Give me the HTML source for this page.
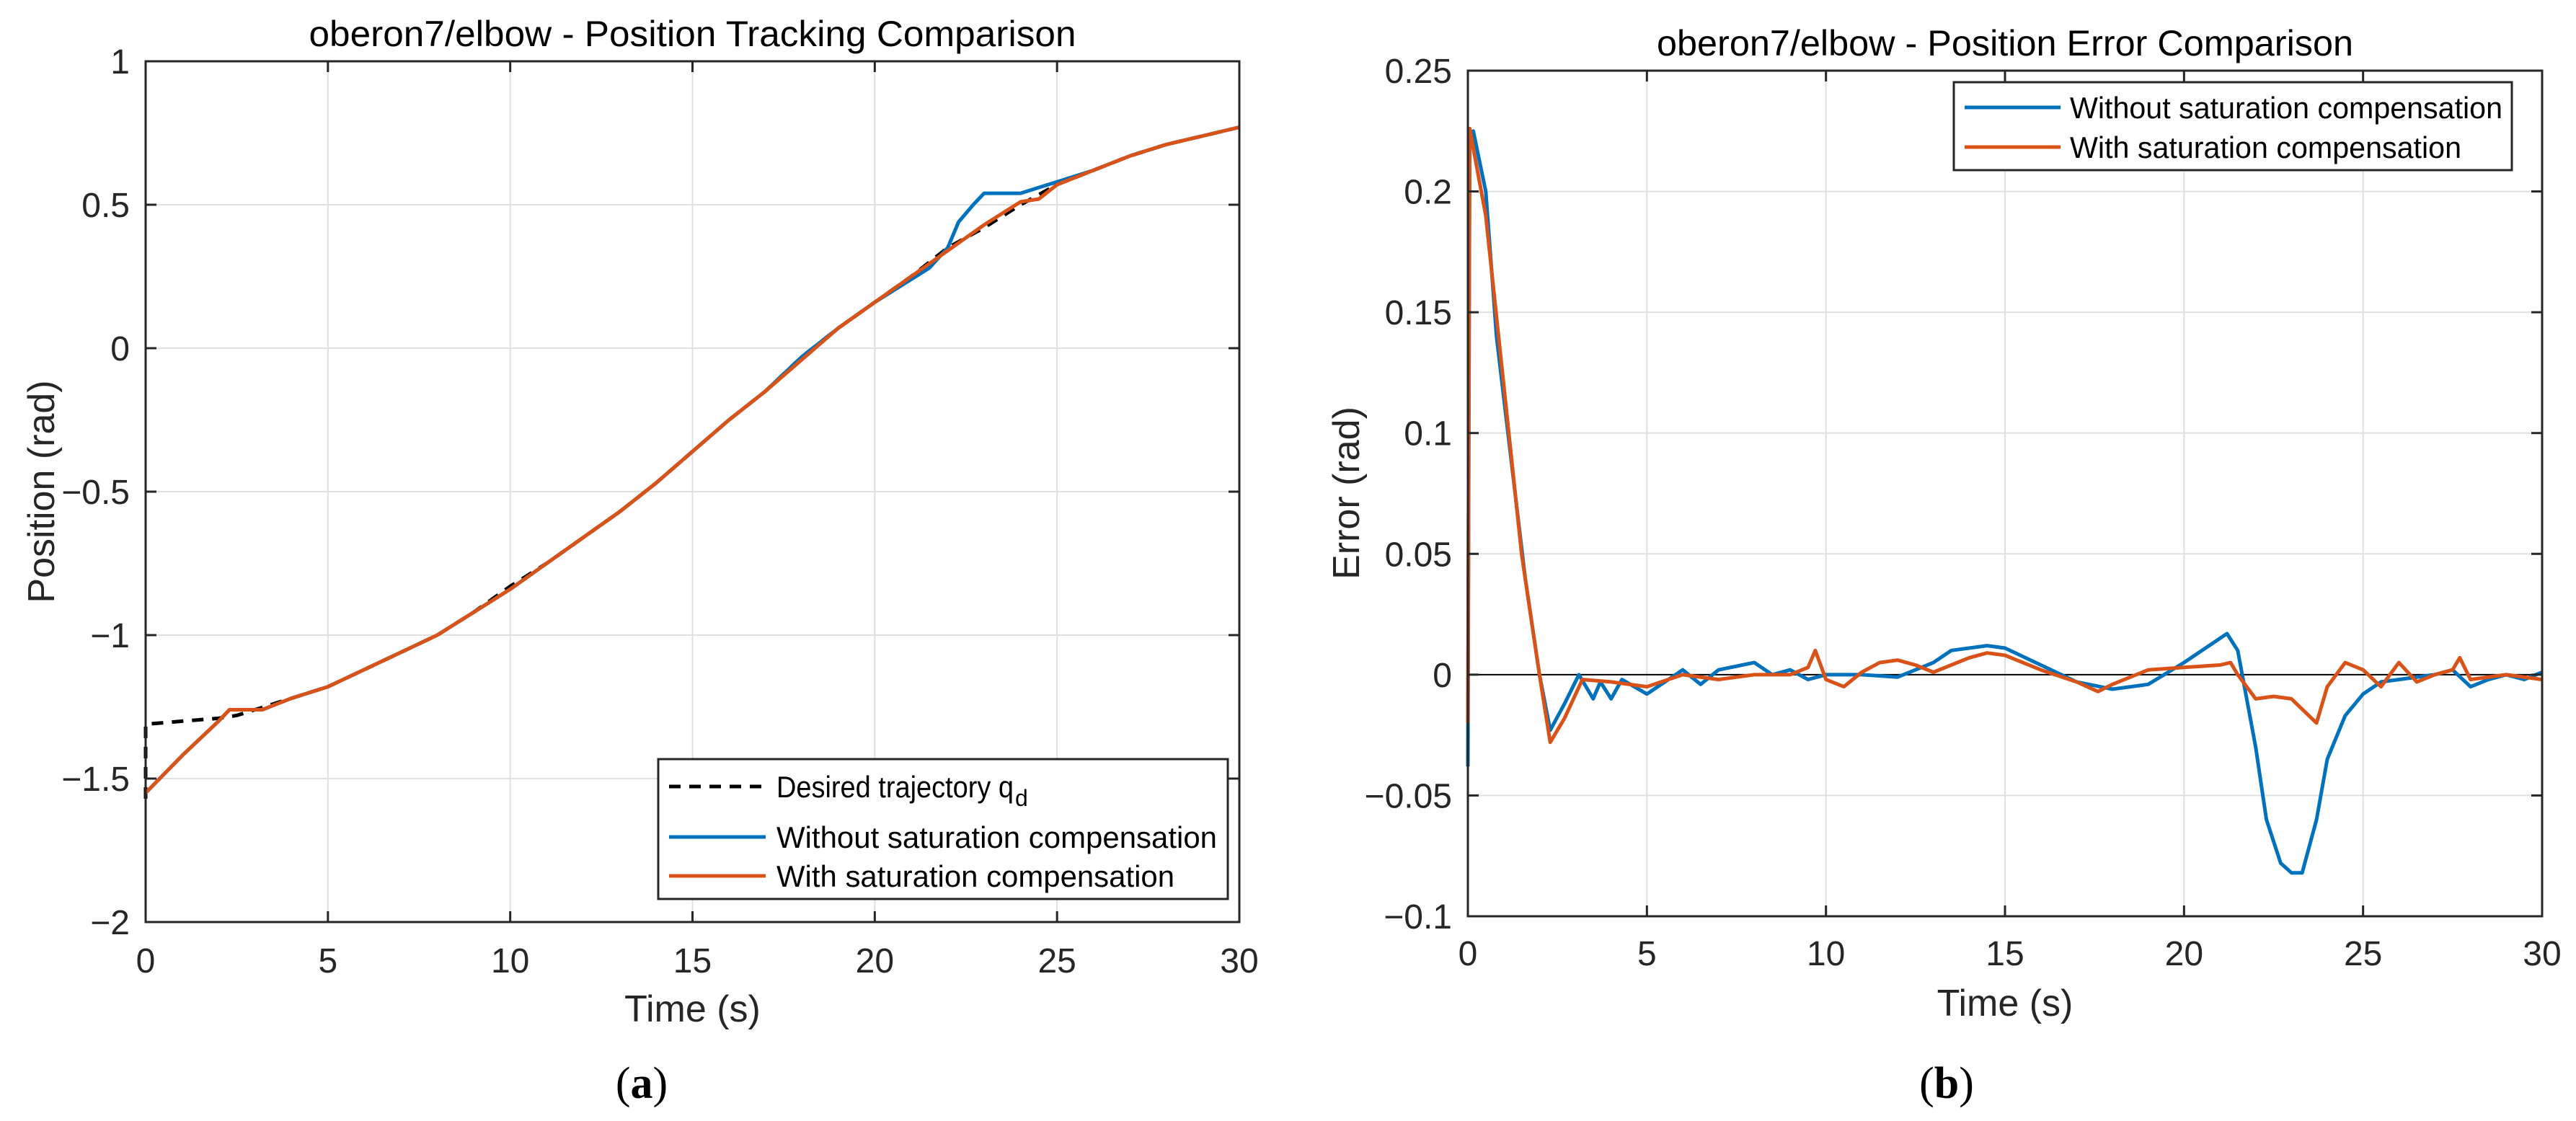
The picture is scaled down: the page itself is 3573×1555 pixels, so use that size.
<!DOCTYPE html>
<html><head><meta charset="utf-8"><style>
html,body{margin:0;padding:0;background:#fff;}
svg{display:block;font-family:"Liberation Sans",Arial,sans-serif;}
</style></head><body>
<svg id="fig" width="3573" height="1555" viewBox="0 0 3573 1555"></svg>
<script>
// ---- Data: panel (a) position tracking ----
const desT = [0,0,0.05,1,2,2.5,3,4,5,6,7,8,9,10,11,12,13,14,15,16,17,18,19,20,21,22,23,24,25,26,27,28,29,30];
const desV = [-1.57,-1.31,-1.31,-1.30,-1.29,-1.28,-1.26,-1.22,-1.18,-1.12,-1.06,-1.0,-0.92,-0.83,-0.75,-0.66,-0.57,-0.47,-0.36,-0.25,-0.15,-0.03,0.07,0.16,0.25,0.35,0.42,0.5,0.57,0.62,0.67,0.71,0.74,0.77];
const noCompT = [0,1,2,2.3,3.2,4,5,6,7,8,9,10,11,12,13,14,15,16,17,18,19,20,21,21.5,22,22.3,22.7,23,23.5,24,24.5,25,26,27,28,29,30];
const noCompV = [-1.55,-1.42,-1.3,-1.26,-1.26,-1.22,-1.18,-1.12,-1.06,-1.0,-0.92,-0.84,-0.75,-0.66,-0.57,-0.47,-0.36,-0.25,-0.15,-0.03,0.07,0.16,0.24,0.28,0.35,0.44,0.50,0.54,0.54,0.54,0.56,0.58,0.62,0.67,0.71,0.74,0.77];
const compT = [0,1,2,2.3,3.2,4,5,6,7,8,9,9.5,10,11,12,13,14,15,16,17,18,19,20,21,22,23,24,24.5,25,26,27,28,29,30];
const compV = [-1.55,-1.42,-1.3,-1.26,-1.26,-1.22,-1.18,-1.12,-1.06,-1.0,-0.92,-0.88,-0.84,-0.75,-0.66,-0.57,-0.47,-0.36,-0.25,-0.15,-0.04,0.07,0.16,0.25,0.34,0.43,0.51,0.52,0.57,0.62,0.67,0.71,0.74,0.77];
// ---- Data: panel (b) error ----
const errNoT = [0,0.05,0.15,0.5,0.8,1.2,1.6,2.0,2.3,2.7,3.1,3.3,3.5,3.7,4,4.3,5,5.5,6,6.5,7,8,8.5,9,9.5,10,11,12,13,13.5,14.5,15,16,17,18,19,20,21,21.2,21.5,22,22.3,22.7,23,23.3,23.7,24,24.5,25,25.5,26,27,27.5,28,28.5,29,29.5,30];
const errNoV = [-0.038,0.22,0.225,0.2,0.14,0.09,0.04,0.0,-0.023,-0.012,0.0,-0.005,-0.01,-0.003,-0.01,-0.002,-0.008,-0.003,0.002,-0.004,0.002,0.005,0.0,0.002,-0.002,0.0,0.0,-0.001,0.005,0.01,0.012,0.011,0.004,-0.003,-0.006,-0.004,0.005,0.015,0.017,0.01,-0.03,-0.06,-0.078,-0.082,-0.082,-0.06,-0.035,-0.017,-0.008,-0.003,-0.002,0.0,0.002,-0.005,-0.002,0.0,-0.002,0.001];
const errCT = [0,0.05,0.5,1,1.5,2,2.3,2.7,3.2,4,5,6,7,8,9,9.5,9.7,10,10.5,11,11.5,12,12.5,13,14,14.5,15,16,17,17.6,18,19,20,21,21.3,21.5,22,22.5,23,23.7,24,24.5,25,25.5,26,26.5,27,27.5,27.7,28,29,30];
const errCV = [-0.02,0.226,0.19,0.12,0.05,0.0,-0.028,-0.018,-0.002,-0.003,-0.005,0.0,-0.002,0.0,0.0,0.003,0.01,-0.002,-0.005,0.001,0.005,0.006,0.004,0.001,0.007,0.009,0.008,0.002,-0.003,-0.007,-0.004,0.002,0.003,0.004,0.005,0.0,-0.01,-0.009,-0.01,-0.02,-0.005,0.005,0.002,-0.005,0.005,-0.003,0.0,0.002,0.007,-0.002,0.0,-0.002];
const xTicks = [0,5,10,15,20,25,30];
const yTicksA = [-2,-1.5,-1,-0.5,0,0.5,1];
const yTicksB = [-0.1,-0.05,0,0.05,0.1,0.15,0.2,0.25];
const yLabelsA = ["\u22122","\u22121.5","\u22121","\u22120.5","0","0.5","1"];
const yLabelsB = ["\u22120.1","\u22120.05","0","0.05","0.1","0.15","0.2","0.25"];

const NS="http://www.w3.org/2000/svg";
const svg=document.getElementById('fig');
function mk(tag,attrs,parent){const e=document.createElementNS(NS,tag);for(const k in attrs)e.setAttribute(k,attrs[k]);(parent||svg).appendChild(e);return e;}
function txt(s,attrs,parent){const e=mk('text',attrs,parent);e.textContent=s;return e;}
const BLUE="#0072BD",ORANGE="#D95319";

function panel(o){
  const g=mk('g',{});
  
  
  const sx=t=>o.L+(t-0)/30*(o.R-o.L);
  const sy=v=>o.B-(v-o.ymin)/(o.ymax-o.ymin)*(o.B-o.T);
  xTicks.forEach(t=>{const l=mk('line',{x1:sx(t),x2:sx(t),y1:o.T,y2:o.B,stroke:'#e0e0e0','stroke-width':2},g);
    });
  o.yt.forEach(v=>{const l=mk('line',{x1:o.L,x2:o.R,y1:sy(v),y2:sy(v),stroke:'#e0e0e0','stroke-width':2},g);
    });
  if(o.zero){const z=mk('line',{x1:o.L,x2:o.R,y1:sy(0),y2:sy(0),stroke:'#000','stroke-width':2},g);
    }
  o.series.forEach(s=>{
    const d=s.t.map((t,i)=>(i?'L':'M')+sx(t).toFixed(1)+','+sy(s.v[i]).toFixed(1)).join(' ');
    const p=mk('path',{d:d,fill:'none',stroke:s.c,'stroke-width':s.w,'stroke-linejoin':'round','stroke-dasharray':s.dash||'none'},g);
    
  });
  const bx=mk('rect',{x:o.L,y:o.T,width:o.R-o.L,height:o.B-o.T,fill:'none',stroke:'#262626','stroke-width':3},g);
  
  xTicks.forEach(t=>{
    mk('line',{x1:sx(t),x2:sx(t),y1:o.B,y2:o.B-15,stroke:'#262626','stroke-width':3},g);
    mk('line',{x1:sx(t),x2:sx(t),y1:o.T,y2:o.T+15,stroke:'#262626','stroke-width':3},g);
    const e=txt(String(t),{x:sx(t),y:o.xtY,'font-size':48,'text-anchor':'middle',fill:'#262626'},g);
    
  });
  o.yt.forEach((v,i)=>{
    mk('line',{x1:o.L,x2:o.L+15,y1:sy(v),y2:sy(v),stroke:'#262626','stroke-width':3},g);
    mk('line',{x1:o.R,x2:o.R-15,y1:sy(v),y2:sy(v),stroke:'#262626','stroke-width':3},g);
    const e=txt(o.yl[i],{x:o.L-22,y:sy(v)+17,'font-size':48,'text-anchor':'end',fill:'#262626'},g);
    
  });
  const cx=(o.L+o.R)/2;
  const ti=txt(o.title,{x:cx,y:o.titleY,'font-size':50,'text-anchor':'middle',fill:'#000',textLength:o.titleW,lengthAdjust:'spacingAndGlyphs'},g);
  
  const xl=txt('Time (s)',{x:cx,y:o.xlY,'font-size':52,'text-anchor':'middle',fill:'#262626'},g);
  
  const yl=txt(o.ylab,{x:0,y:0,'font-size':52,'text-anchor':'middle',fill:'#262626',transform:`translate(${o.ylX},${o.ylY}) rotate(-90)`},g);
  
  const lg=mk('g',{},g);
  
  mk('rect',{x:o.lg.x,y:o.lg.y,width:o.lg.w,height:o.lg.h,fill:'#fff',stroke:'#262626','stroke-width':3},lg);
  o.lg.items.forEach(it=>{
    const ent=mk('g',{},lg);
    
    mk('line',{x1:o.lg.lx1,x2:o.lg.lx2,y1:it.y,y2:it.y,stroke:it.c,'stroke-width':5,'stroke-dasharray':it.dash||'none'},ent);
    if(it.sub){
      const t=mk('text',{x:o.lg.tx,y:it.y+15,'font-size':42,fill:'#000',textLength:it.w,lengthAdjust:'spacingAndGlyphs'},ent);
      t.textContent=it.label;
      const s=mk('text',{x:o.lg.tx+it.w+2,y:it.y+27,'font-size':32,fill:'#000'},ent);
      s.textContent=it.sub;
    } else {
      const t=mk('text',{x:o.lg.tx,y:it.y+15,'font-size':42,fill:'#000',textLength:it.w,lengthAdjust:'spacingAndGlyphs'},ent);
      t.textContent=it.label;
    }
  });
  const cap=mk('text',{x:o.capX,y:1523,'font-size':62,'text-anchor':'middle','font-family':'"Liberation Serif",serif',fill:'#000'},g);
  
  cap.appendChild(document.createTextNode('('));
  const b=mk('tspan',{'font-weight':'bold'},cap);b.textContent=o.cap;
  cap.appendChild(document.createTextNode(')'));
}

panel({name:'position-tracking-chart',L:202,R:1719,T:85,B:1279,ymin:-2,ymax:1,yt:yTicksA,yl:yLabelsA,
  title:'oberon7/elbow - Position Tracking Comparison',titleW:1064,titleY:64,xtY:1349,xlY:1417,ylab:'Position (rad)',ylX:75,ylY:682,
  series:[
    {name:'desired-trajectory-line',t:desT,v:desV,c:'#000',w:5,dash:'16,12'},
    {name:'without-compensation-line',t:noCompT,v:noCompV,c:BLUE,w:5},
    {name:'with-compensation-line',t:compT,v:compV,c:ORANGE,w:5}],
  lg:{x:913,y:1053,w:790,h:194,lx1:928,lx2:1062,tx:1077,items:[
    {y:1091,c:'#000',dash:'16,12',label:'Desired trajectory q',sub:'d',w:329},
    {y:1161,c:BLUE,label:'Without saturation compensation',w:611},
    {y:1215,c:ORANGE,label:'With saturation compensation',w:552}]},
  capX:890,cap:'a'});

panel({name:'position-error-chart',L:2036,R:3526,T:98,B:1271,ymin:-0.1,ymax:0.25,yt:yTicksB,yl:yLabelsB,zero:true,
  title:'oberon7/elbow - Position Error Comparison',titleW:966,titleY:77,xtY:1339,xlY:1409,ylab:'Error (rad)',ylX:1885,ylY:684,
  series:[
    {name:'without-compensation-error-line',t:errNoT,v:errNoV,c:BLUE,w:5},
    {name:'with-compensation-error-line',t:errCT,v:errCV,c:ORANGE,w:5}],
  lg:{x:2710,y:114,w:774,h:122,lx1:2725,lx2:2858,tx:2871,items:[
    {y:149,c:BLUE,label:'Without saturation compensation',w:600},
    {y:204,c:ORANGE,label:'With saturation compensation',w:543}]},
  capX:2700,cap:'b'});
</script>
</body></html>
